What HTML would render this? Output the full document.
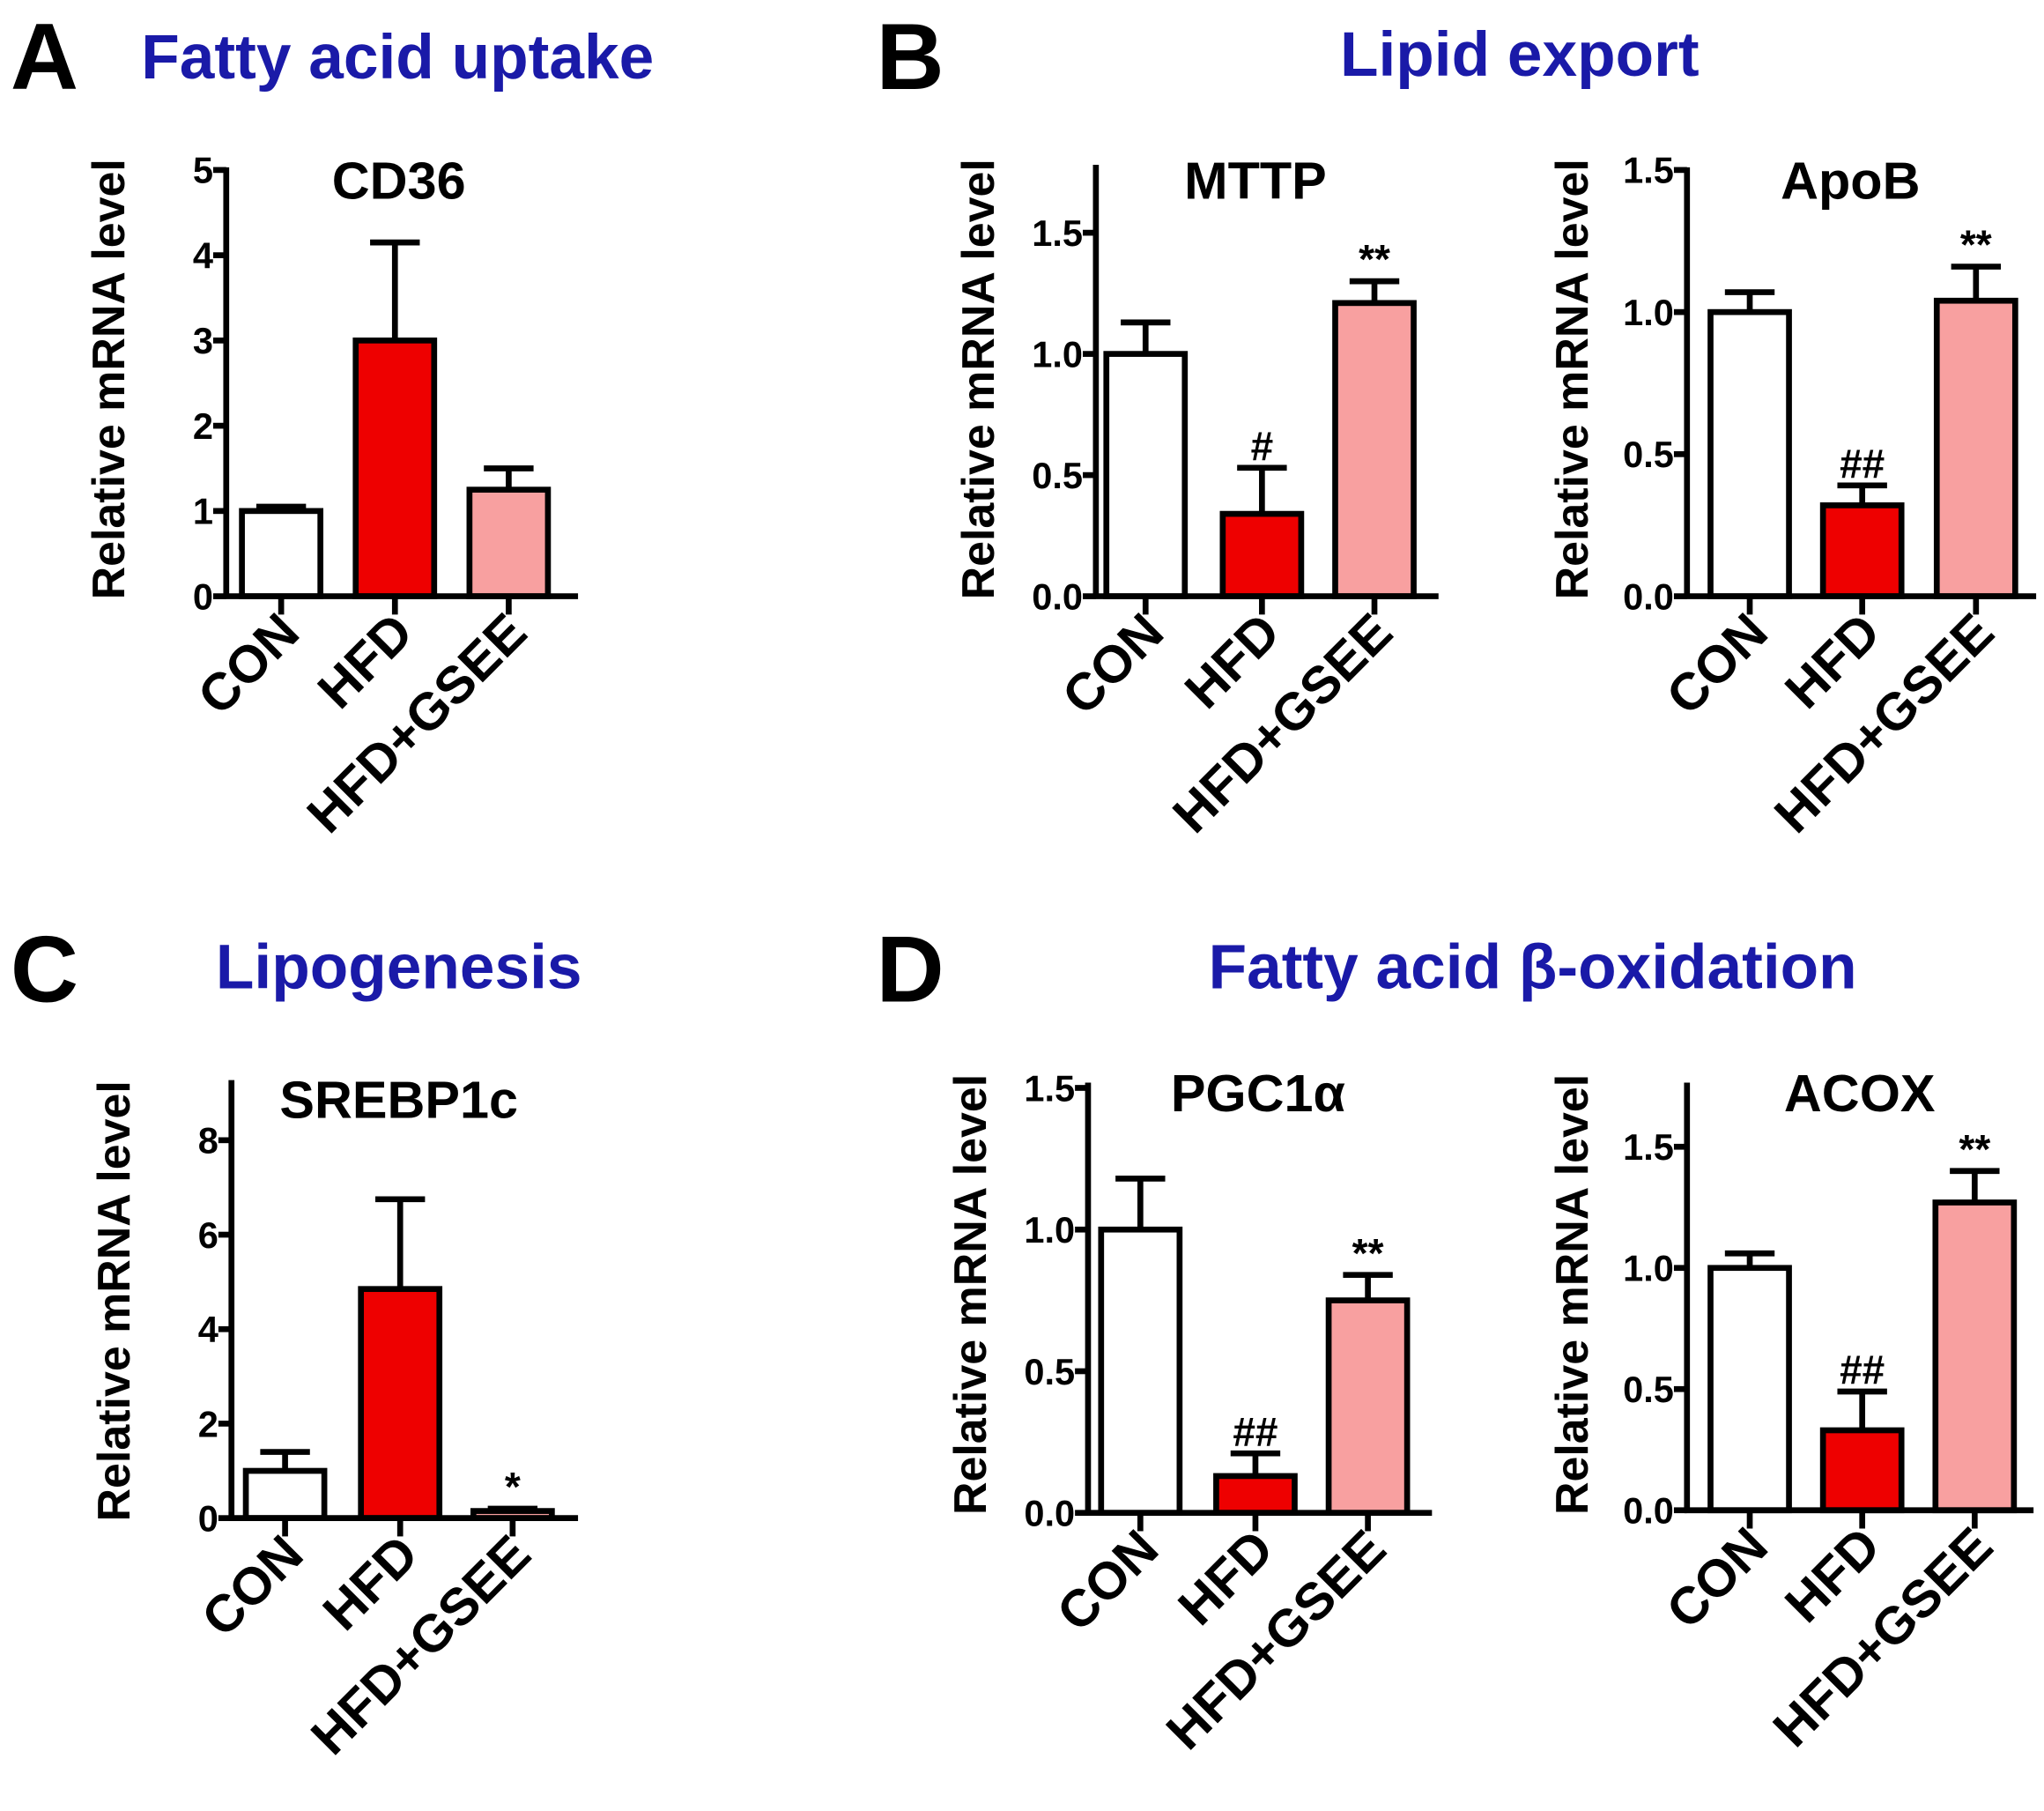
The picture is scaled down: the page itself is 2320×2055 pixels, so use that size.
<!DOCTYPE html>
<html><head><meta charset="utf-8"><style>
html,body{margin:0;padding:0;background:#fff}
svg{display:block}
text{font-family:"Liberation Sans",Arial,sans-serif;font-weight:bold}
</style></head><body>
<svg id="fig" width="2320" height="2055" viewBox="0 0 1563 1385" preserveAspectRatio="none" xmlns="http://www.w3.org/2000/svg">
<text x="8" y="68" font-size="72" fill="#000">A</text>
<text x="108" y="60" font-size="48" fill="#1a1aa8">Fatty acid uptake</text>
<text x="670" y="68" font-size="72" fill="#000">B</text>
<text x="1162" y="58" font-size="48" fill="#1a1aa8" text-anchor="middle">Lipid export</text>
<text x="8" y="766" font-size="72" fill="#000">C</text>
<text x="305" y="756" font-size="48" fill="#1a1aa8" text-anchor="middle">Lipogenesis</text>
<text x="670" y="766" font-size="72" fill="#000">D</text>
<text x="1172" y="756" font-size="48" fill="#1a1aa8" text-anchor="middle">Fatty acid β-oxidation</text>
</svg>
<script>
const categories = ["CON","HFD","HFD+GSEE"];
const colors = ["#ffffff","#ee0000","#f8a0a0"];
const cd36Values = [1.0, 3.0, 1.25];
const cd36Errors = [0.05, 1.15, 0.25];
const cd36Ticks = ["0","1","2","3","4","5"];
const mttpValues = [1.0, 0.34, 1.21];
const mttpErrors = [0.13, 0.19, 0.09];
const mttpMarks = ["", "#", "**"];
const apobValues = [1.0, 0.32, 1.04];
const apobErrors = [0.07, 0.07, 0.12];
const apobMarks = ["", "##", "**"];
const srebpValues = [1.0, 4.85, 0.15];
const srebpErrors = [0.4, 1.9, 0.05];
const srebpMarks = ["", "", "*"];
const srebpTicks = ["0","2","4","6","8"];
const pgcValues = [1.0, 0.13, 0.75];
const pgcErrors = [0.18, 0.08, 0.09];
const pgcMarks = ["", "##", "**"];
const acoxValues = [1.0, 0.33, 1.27];
const acoxErrors = [0.06, 0.16, 0.13];
const acoxMarks = ["", "##", "**"];
const decTicks = ["0.0","0.5","1.0","1.5"];

const NS="http://www.w3.org/2000/svg";
const svg=document.getElementById('fig');
function mk(tag,attrs,parent){const e=document.createElementNS(NS,tag);for(const k in attrs)e.setAttribute(k,attrs[k]);(parent||svg).appendChild(e);return e;}

function chart(cfg){
  const g=mk('g',{});
  
  
  const y=v=>cfg.y0-(v/cfg.vmax)*(cfg.y0-cfg.ytop);
  const x=i=>cfg.xs[i];
  cfg.values.forEach((v,i)=>{
    const e=cfg.errors[i];
    const eb=mk('line',{x1:x(i),x2:x(i),y1:y(v),y2:y(v+e),stroke:'#000','stroke-width':4.5},g);
    
    
    const cap=mk('line',{x1:x(i)-19,x2:x(i)+19,y1:y(v+e),y2:y(v+e),stroke:'#000','stroke-width':4.5},g);
    
    
    const r=mk('rect',{x:x(i)-30,y:y(v),width:60,height:Math.max(0,cfg.y0-y(v)),fill:colors[i],stroke:'#000','stroke-width':4.5},g);
    
    
    if(cfg.marks && cfg.marks[i]){
      const t=mk('text',{x:x(i),y:y(v+e)-6,'font-size':31,'text-anchor':'middle',fill:'#000'},g);
      t.textContent=cfg.marks[i];
      
      
    }
    const tk=mk('line',{x1:x(i),x2:x(i),y1:cfg.y0,y2:cfg.y0+14,stroke:'#000','stroke-width':4.5},g);
    
    
    const lx=x(i)+16, ly=cfg.y0+30;
    const ct=mk('text',{x:lx,y:ly,'font-size':40,'text-anchor':'end',fill:'#000',transform:`rotate(-45 ${lx} ${ly})`},g);
    ct.textContent=categories[i];
    
    
  });
  const ya=mk('line',{x1:cfg.xa,x2:cfg.xa,y1:cfg.atop-2,y2:cfg.y0+2,stroke:'#000','stroke-width':4.5},g);
  
  
  const xa=mk('line',{x1:cfg.xa-2,x2:cfg.xend,y1:cfg.y0,y2:cfg.y0,stroke:'#000','stroke-width':4.5},g);
  
  
  cfg.ticks.forEach(t=>{
    const v=parseFloat(t);
    const l=mk('line',{x1:cfg.xa-10,x2:cfg.xa,y1:y(v),y2:y(v),stroke:'#000','stroke-width':4.5},g);
    
    
    const tt=mk('text',{x:cfg.xa-10,y:y(v)+10,'font-size':28,'text-anchor':'end',fill:'#000'},g);
    tt.textContent=t;
    
    
  });
  const ti=mk('text',{x:cfg.tx,y:cfg.ty,'font-size':40,'text-anchor':'middle',fill:'#000'},g);
  ti.textContent=cfg.title;
  
  
  const yl=cfg.yl, ym=cfg.ym;
  const ylab=mk('text',{x:yl,y:ym,'font-size':35,'text-anchor':'middle',fill:'#000',transform:`rotate(-90 ${yl} ${ym})`},g);
  ylab.textContent='Relative mRNA level';
  
  
}

chart({name:'cd36',title:'CD36',values:cd36Values,errors:cd36Errors,ticks:cd36Ticks,vmax:5,xa:173,xend:442,ytop:130,atop:130,y0:456,xs:[215,302,389],tx:305,ty:152,yl:95,ym:290});
chart({name:'mttp',title:'MTTP',values:mttpValues,errors:mttpErrors,marks:mttpMarks,ticks:decTicks,vmax:1.5,xa:838,xend:1100,ytop:178,atop:128,y0:456,xs:[876,965,1051],tx:960,ty:152,yl:760,ym:290});
chart({name:'apob',title:'ApoB',values:apobValues,errors:apobErrors,marks:apobMarks,ticks:decTicks,vmax:1.5,xa:1290,xend:1557,ytop:130,atop:130,y0:456,xs:[1338,1424,1511],tx:1415,ty:152,yl:1214,ym:290});
chart({name:'srebp1c',title:'SREBP1c',values:srebpValues,errors:srebpErrors,marks:srebpMarks,ticks:srebpTicks,vmax:8,xa:177,xend:442,ytop:872,atop:828,y0:1161,xs:[218,306,392],tx:305,ty:855,yl:99,ym:995});
chart({name:'pgc1a',title:'PGC1α',values:pgcValues,errors:pgcErrors,marks:pgcMarks,ticks:decTicks,vmax:1.5,xa:832,xend:1095,ytop:832,atop:830,y0:1157,xs:[872,960,1046],tx:962,ty:850,yl:754,ym:990});
chart({name:'acox',title:'ACOX',values:acoxValues,errors:acoxErrors,marks:acoxMarks,ticks:decTicks,vmax:1.5,xa:1290,xend:1555,ytop:877,atop:830,y0:1155,xs:[1338,1424,1510],tx:1422,ty:850,yl:1214,ym:990});
</script>
</body></html>
